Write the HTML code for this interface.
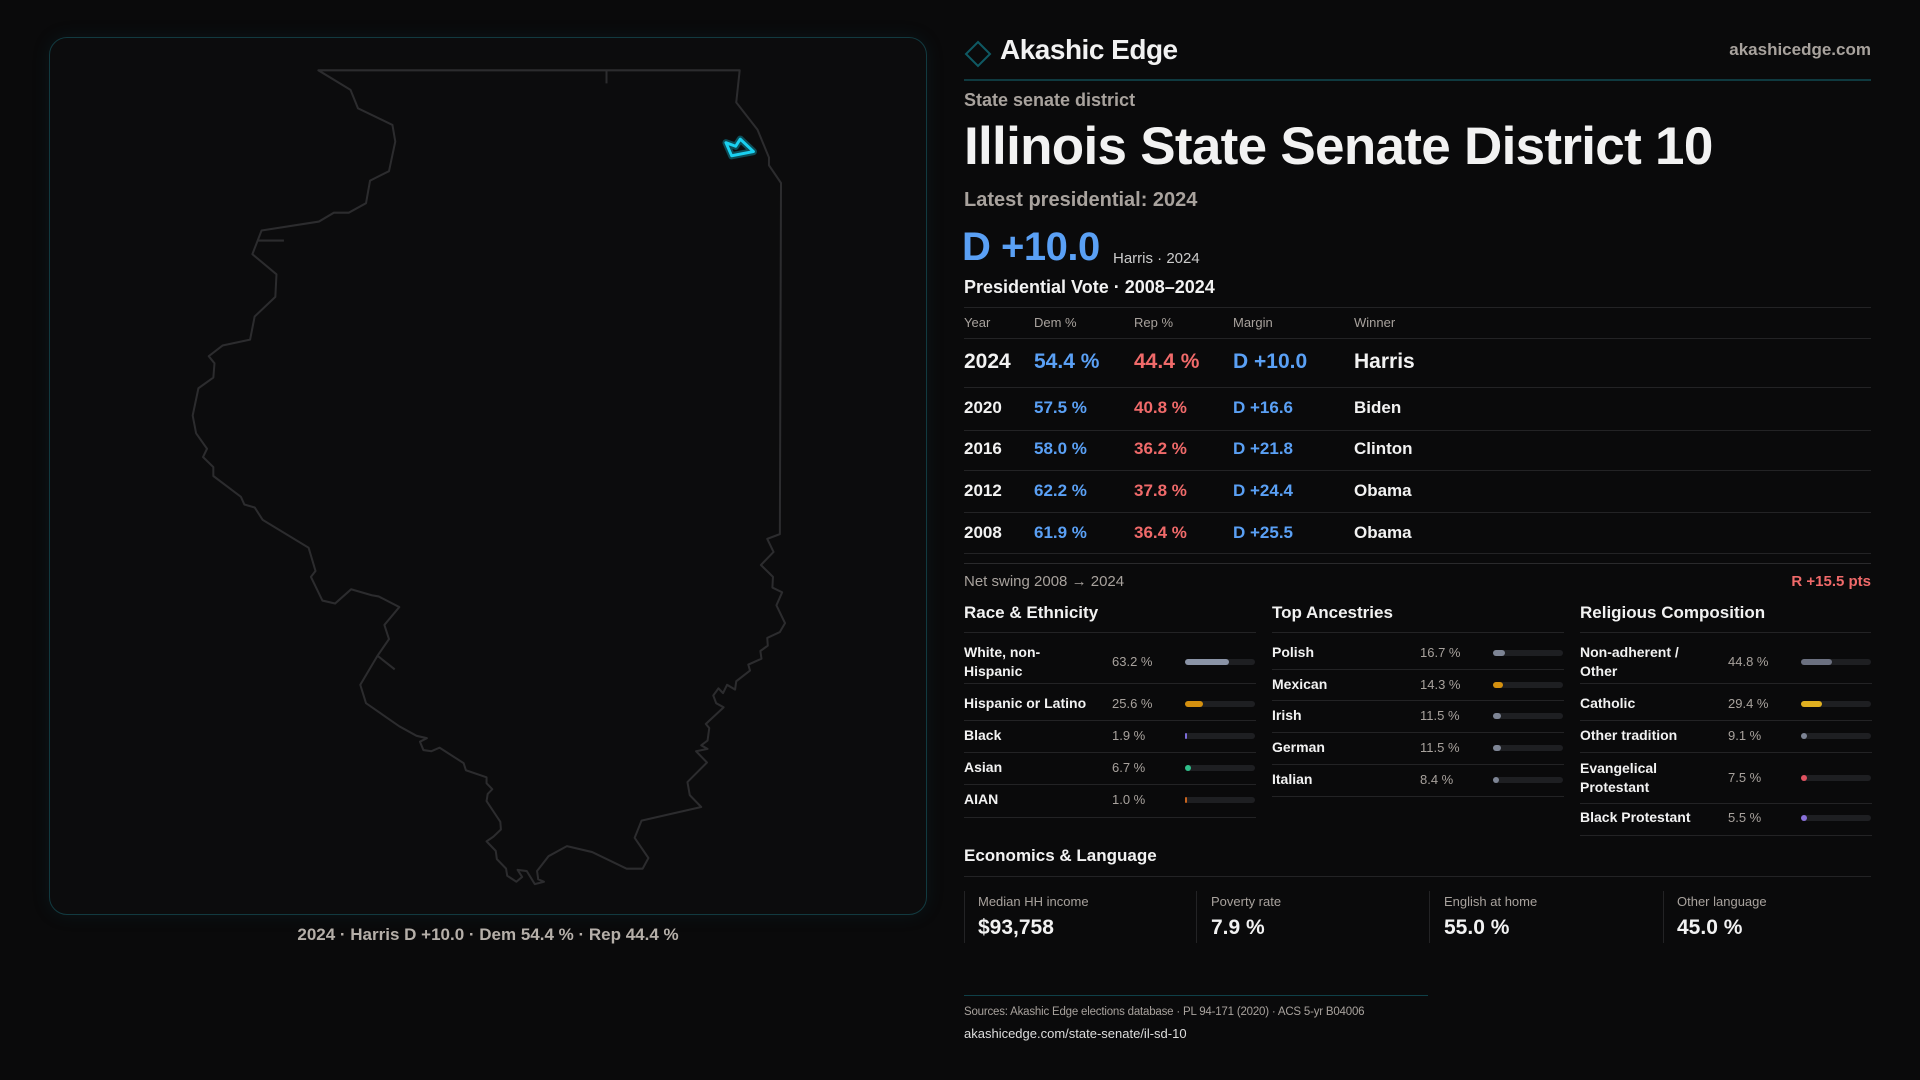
<!DOCTYPE html>
<html><head><meta charset="utf-8"><style>
*{margin:0;padding:0;box-sizing:border-box}
body{width:1920px;height:1080px;background:#0a0a0b;font-family:"Liberation Sans",sans-serif;color:#f2f2f2;position:relative;overflow:hidden}
.a{position:absolute;white-space:nowrap}
.g{color:#a8a29d}
.b{color:#5aa0f5}.r{color:#f06a6a}
.hl{position:absolute;height:1px;background:#232325}
.track{position:absolute;height:6px;border-radius:3px;background:#1e1f22;width:70px}
.fill{position:absolute;left:0;top:0;height:6px;border-radius:3px}
</style></head><body>
<div style="position:absolute;left:49px;top:37px;width:878px;height:878px;border:1px solid #123a40;border-radius:18px;background:#0c0c0d;box-shadow:0 0 18px rgba(20,90,100,0.15)"></div>
<svg style="position:absolute;left:40px;top:30px" width="900" height="930" viewBox="0 0 1568 1568" preserveAspectRatio="none">
<path d="M485,68 L1219,68 L1213,122 L1250,168 L1270,215 L1270,228 L1291,258 L1289,850 L1267,858 L1278,880 L1256,902 L1277,922 L1276,940 L1293,948 L1283,970 L1298,1000 L1289,1015 L1267,1025 L1268,1038 L1255,1047 L1257,1060 L1234,1070 L1237,1080 L1213,1098 L1211,1112 L1197,1104 L1190,1118 L1182,1110 L1173,1122 L1178,1135 L1191,1142 L1160,1170 L1166,1177 L1163,1198 L1152,1206 L1163,1212 L1143,1216 L1162,1235 L1128,1268 L1132,1290 L1152,1310 L1048,1333 L1036,1362 L1060,1396 L1050,1414 L1022,1414 L962,1386 L918,1376 L886,1393 L866,1418 L868,1432 L878,1436 L862,1440 L848,1418 L832,1416 L840,1428 L830,1436 L814,1426 L812,1414 L796,1398 L794,1384 L778,1368 L790,1360 L803,1348 L802,1335 L778,1300 L780,1288 L788,1280 L778,1270 L778,1260 L742,1248 L738,1236 L696,1210 L682,1216 L668,1214 L662,1200 L674,1194 L656,1190 L626,1174 L568,1135 L558,1104 L588,1055 L608,1027 L600,1003 L626,973 L590,955 L578,953 L542,943 L514,967 L492,962 L472,922 L480,912 L468,873 L388,826 L374,805 L356,800 L350,787 L302,752 L302,737 L284,720 L291,706 L272,680 L266,650 L276,604 L302,586 L304,562 L294,550 L318,532 L366,522 L374,483 L410,450 L412,412 L370,378 L386,338 L486,323 L512,308 L538,308 L568,292 L575,254 L608,238 L619,188 L614,160 L554,132 L541,101 Z M380,355 L425,355 M987,68 L987,90 M588,1055 L618,1078" fill="none" stroke="#2c2c2e" stroke-width="3.5" stroke-linejoin="round"/>
<path d="M1195,190 L1212,196 L1220,184 L1243,205 L1205,212 Z" fill="none" stroke="#0e6a78" stroke-width="12" stroke-linejoin="round" opacity="0.7"/>
<path d="M1195,190 L1212,196 L1220,184 L1243,205 L1205,212 Z" fill="none" stroke="#1ad0f0" stroke-width="5" stroke-linejoin="round"/>
</svg>
<div class="a g" style="left:0;width:976px;text-align:center;top:925px;font-size:17px;font-weight:bold;color:#b5afa9">2024 · Harris D +10.0 · Dem 54.4 % · Rep 44.4 %</div>

<svg class="a" style="left:964px;top:40px" width="28" height="28"><path d="M14,2 L26,14 L14,26 L2,14 Z" fill="none" stroke="#0f5963" stroke-width="2"/></svg>
<div class="a" style="left:1000px;top:34px;font-size:28px;font-weight:bold;letter-spacing:-0.5px">Akashic Edge</div>
<div class="a g" style="right:49px;top:40px;font-size:17px;font-weight:bold">akashicedge.com</div>
<div class="a" style="left:964px;top:79px;width:907px;height:2px;background:#0f3a40"></div>
<div class="a g" style="left:964px;top:90px;font-size:18px;font-weight:bold">State senate district</div>
<div class="a" style="left:964px;top:116px;font-size:53px;font-weight:bold;letter-spacing:-0.7px">Illinois State Senate District 10</div>
<div class="a g" style="left:964px;top:189px;font-size:20px;font-weight:bold">Latest presidential: 2024</div>
<div class="a b" style="left:962px;top:225px;font-size:40px;font-weight:bold;letter-spacing:-0.5px">D +10.0</div>
<div class="a" style="left:1113px;top:250px;font-size:15px;color:#ccc">Harris · 2024</div>
<div class="a" style="left:964px;top:277px;font-size:18px;font-weight:bold">Presidential Vote · 2008–2024</div>

<div class="hl" style="left:964px;width:907px;top:307px"></div>
<div class="a g" style="left:964px;top:315px;font-size:13px">Year</div>
<div class="a g" style="left:1034px;top:315px;font-size:13px">Dem %</div>
<div class="a g" style="left:1134px;top:315px;font-size:13px">Rep %</div>
<div class="a g" style="left:1233px;top:315px;font-size:13px">Margin</div>
<div class="a g" style="left:1354px;top:315px;font-size:13px">Winner</div>
<div class="hl" style="left:964px;width:907px;top:338px"></div>
<div class="a" style="left:964px;top:350px;font-size:21px;font-weight:bold">2024</div>
<div class="a b" style="left:1034px;top:350px;font-size:21px;font-weight:bold">54.4 %</div>
<div class="a r" style="left:1134px;top:350px;font-size:21px;font-weight:bold">44.4 %</div>
<div class="a b" style="left:1233px;top:350px;font-size:21px;font-weight:bold">D +10.0</div>
<div class="a" style="left:1354px;top:350px;font-size:21px;font-weight:bold">Harris</div>
<div class="hl" style="left:964px;width:907px;top:387px"></div>

<div class="a" style="left:964px;top:398px;font-size:17px;font-weight:bold">2020</div>
<div class="a b" style="left:1034px;top:398px;font-size:17px;font-weight:bold">57.5 %</div>
<div class="a r" style="left:1134px;top:398px;font-size:17px;font-weight:bold">40.8 %</div>
<div class="a b" style="left:1233px;top:398px;font-size:17px;font-weight:bold">D +16.6</div>
<div class="a" style="left:1354px;top:398px;font-size:17px;font-weight:bold">Biden</div>
<div class="hl" style="left:964px;width:907px;top:430px"></div>
<div class="a" style="left:964px;top:439px;font-size:17px;font-weight:bold">2016</div>
<div class="a b" style="left:1034px;top:439px;font-size:17px;font-weight:bold">58.0 %</div>
<div class="a r" style="left:1134px;top:439px;font-size:17px;font-weight:bold">36.2 %</div>
<div class="a b" style="left:1233px;top:439px;font-size:17px;font-weight:bold">D +21.8</div>
<div class="a" style="left:1354px;top:439px;font-size:17px;font-weight:bold">Clinton</div>
<div class="hl" style="left:964px;width:907px;top:470px"></div>
<div class="a" style="left:964px;top:481px;font-size:17px;font-weight:bold">2012</div>
<div class="a b" style="left:1034px;top:481px;font-size:17px;font-weight:bold">62.2 %</div>
<div class="a r" style="left:1134px;top:481px;font-size:17px;font-weight:bold">37.8 %</div>
<div class="a b" style="left:1233px;top:481px;font-size:17px;font-weight:bold">D +24.4</div>
<div class="a" style="left:1354px;top:481px;font-size:17px;font-weight:bold">Obama</div>
<div class="hl" style="left:964px;width:907px;top:512px"></div>
<div class="a" style="left:964px;top:523px;font-size:17px;font-weight:bold">2008</div>
<div class="a b" style="left:1034px;top:523px;font-size:17px;font-weight:bold">61.9 %</div>
<div class="a r" style="left:1134px;top:523px;font-size:17px;font-weight:bold">36.4 %</div>
<div class="a b" style="left:1233px;top:523px;font-size:17px;font-weight:bold">D +25.5</div>
<div class="a" style="left:1354px;top:523px;font-size:17px;font-weight:bold">Obama</div>
<div class="hl" style="left:964px;width:907px;top:553px"></div>
<div class="hl" style="left:964px;width:907px;top:563px;background:#2a2a2c"></div>

<div class="a g" style="left:964px;top:573px;font-size:15px">Net swing 2008 → 2024</div>
<div class="a r" style="right:49px;top:573px;font-size:15px;font-weight:bold">R +15.5 pts</div>

<div class="a" style="left:964px;top:603px;font-size:17px;font-weight:bold">Race &amp; Ethnicity</div>
<div class="a" style="left:1272px;top:603px;font-size:17px;font-weight:bold">Top Ancestries</div>
<div class="a" style="left:1580px;top:603px;font-size:17px;font-weight:bold">Religious Composition</div>
<div class="hl" style="left:964px;width:292px;top:632px"></div>
<div class="hl" style="left:1272px;width:292px;top:632px"></div>
<div class="hl" style="left:1580px;width:291px;top:632px"></div>

<div id="rows"></div>
<script>
function row(x,y,label,val,pct,color,ln){
 var h='';
 var lines=label.split('|');
 if(lines.length>1){h+='<div class="a" style="left:'+x+'px;top:'+(y-19)+'px;font-size:14px;font-weight:bold;line-height:19px">'+lines[0]+'<br>'+lines[1]+'</div>';}
 else h+='<div class="a" style="left:'+x+'px;top:'+(y-9)+'px;font-size:14px;font-weight:bold">'+label+'</div>';
 h+='<div class="a g" style="left:'+(x+148)+'px;top:'+(y-8)+'px;font-size:13px">'+val+'</div>';
 var w=Math.max(pct/100*70,pct<3?2:6);
 h+='<div class="track" style="left:'+(x+221)+'px;top:'+(y-3)+'px"><div class="fill" style="width:'+w+'px;background:'+color+'"></div></div>';
 h+='<div class="hl" style="left:'+x+'px;width:292px;top:'+ln+'px"></div>';
 return h;
}
var H='';
H+=row(964,662,'White, non-|Hispanic','63.2 %',63.2,'#8a93a6',683);
H+=row(964,704,'Hispanic or Latino','25.6 %',25.6,'#d4900f',720);
H+=row(964,736,'Black','1.9 %',1.9,'#7c6cd8',752);
H+=row(964,768,'Asian','6.7 %',6.7,'#2fbf8a',784);
H+=row(964,800,'AIAN','1.0 %',1.0,'#c8641e',817);
H+=row(1272,653,'Polish','16.7 %',16.7,'#7d8494',669);
H+=row(1272,685,'Mexican','14.3 %',14.3,'#d4900f',700);
H+=row(1272,716,'Irish','11.5 %',11.5,'#7d8494',732);
H+=row(1272,748,'German','11.5 %',11.5,'#7d8494',764);
H+=row(1272,780,'Italian','8.4 %',8.4,'#7d8494',796);
H+=row(1580,662,'Non-adherent /|Other','44.8 %',44.8,'#6b7080',683);
H+=row(1580,704,'Catholic','29.4 %',29.4,'#e0b020',720);
H+=row(1580,736,'Other tradition','9.1 %',9.1,'#7d8494',752);
H+=row(1580,778,'Evangelical|Protestant','7.5 %',7.5,'#e05260',803);
H+=row(1580,818,'Black Protestant','5.5 %',5.5,'#8870d8',835);
document.getElementById('rows').innerHTML=H;
</script>

<div class="a" style="left:964px;top:846px;font-size:17px;font-weight:bold">Economics &amp; Language</div>
<div class="hl" style="left:964px;width:907px;top:876px"></div>
<div class="a" style="left:964px;top:891px;width:1px;height:52px;background:#232325"></div>
<div class="a" style="left:1196px;top:891px;width:1px;height:52px;background:#232325"></div>
<div class="a" style="left:1429px;top:891px;width:1px;height:52px;background:#232325"></div>
<div class="a" style="left:1663px;top:891px;width:1px;height:52px;background:#232325"></div>
<div class="a g" style="left:978px;top:894px;font-size:13px">Median HH income</div>
<div class="a" style="left:978px;top:916px;font-size:21px;font-weight:bold">$93,758</div>
<div class="a g" style="left:1211px;top:894px;font-size:13px">Poverty rate</div>
<div class="a" style="left:1211px;top:916px;font-size:21px;font-weight:bold">7.9 %</div>
<div class="a g" style="left:1444px;top:894px;font-size:13px">English at home</div>
<div class="a" style="left:1444px;top:916px;font-size:21px;font-weight:bold">55.0 %</div>
<div class="a g" style="left:1677px;top:894px;font-size:13px">Other language</div>
<div class="a" style="left:1677px;top:916px;font-size:21px;font-weight:bold">45.0 %</div>

<div class="a" style="left:964px;top:995px;width:464px;height:1px;background:#0f4048"></div>
<div class="a g" style="left:964px;top:1006px;font-size:11.5px;letter-spacing:-0.2px">Sources: Akashic Edge elections database · PL 94-171 (2020) · ACS 5-yr B04006</div>
<div class="a" style="left:964px;top:1026px;font-size:13px;color:#ddd">akashicedge.com/state-senate/il-sd-10</div>
</body></html>
